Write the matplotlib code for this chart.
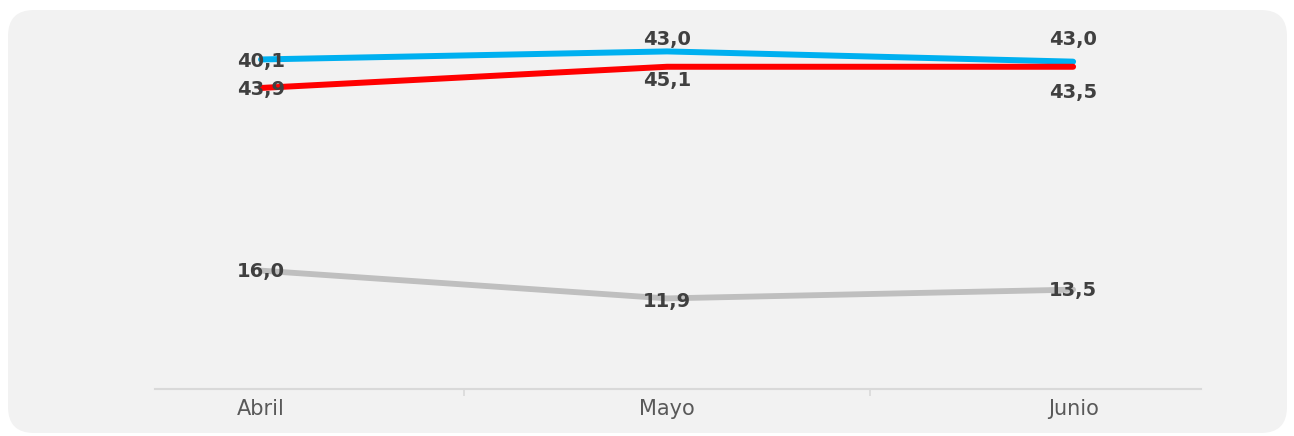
import matplotlib
matplotlib.use('Agg')
import matplotlib.pyplot as plt
from matplotlib.patches import FancyBboxPatch
from matplotlib.transforms import IdentityTransform

# data (plotted level and the printed label differ in the source)
months = ['Abril', 'Mayo', 'Junio']
blue_vals = [45.1, 46.2, 44.8]
red_vals = [41.2, 44.1, 44.1]
gray_vals = [16.2, 12.4, 13.6]
blue_labels = ['40,1', '43,0', '43,0']
red_labels = ['43,9', '45,1', '43,5']
gray_labels = ['16,0', '11,9', '13,5']

W, H = 1294, 436
fig = plt.figure(figsize=(W / 100, H / 100), dpi=100)
fig.patch.set_facecolor('white')

# rounded grey panel behind the chart
panel = FancyBboxPatch((8, 3), 1279, 423, boxstyle='round,pad=0,rounding_size=26',
                       transform=IdentityTransform(), facecolor='#f2f2f2',
                       edgecolor='none', zorder=-5)
fig.patches.append(panel)

ax = fig.add_axes([155 / W, (H - 389) / H, 1046 / W, 369 / H])
ax.set_facecolor('none')
ax.set_zorder(2)

x = list(range(len(months)))
ax.plot(x, gray_vals, color='#bfbfbf', lw=4.2, solid_capstyle='round', zorder=2)
ax.plot(x, blue_vals, color='#00b0f0', lw=4.3, solid_capstyle='round', zorder=3)
ax.plot(x, red_vals, color='#ff0000', lw=4.3, solid_capstyle='round', zorder=4)

# label offsets in pixels (up is positive)
blue_dy = [0, 14, 24]
red_dy = [0, -12, -24]
gray_dy = [1, -1, 1]

for vals, labels, dys in [(blue_vals, blue_labels, blue_dy),
                          (red_vals, red_labels, red_dy),
                          (gray_vals, gray_labels, gray_dy)]:
    for xi, v, lab, dy in zip(x, vals, labels, dys):
        ax.annotate(lab, (xi, v), xytext=(0, dy), textcoords='offset pixels',
                    ha='center', va='center_baseline', fontsize=14, fontweight='bold',
                    color='#404040', zorder=6)

ax.set_xlim(-0.261, 2.315)
ax.set_ylim(0, 50.5)

for s in ['top', 'left', 'right']:
    ax.spines[s].set_visible(False)
ax.spines['bottom'].set_color('#d9d9d9')
ax.spines['bottom'].set_linewidth(1.5)

ax.set_yticks([])
ax.set_xticks(x)
ax.set_xticklabels(months, fontsize=15, color='#595959')
ax.tick_params(axis='x', which='major', length=0, pad=7)
ax.set_xticks([0.5, 1.5], minor=True)
ax.tick_params(axis='x', which='minor', length=5, width=1.2, color='#d9d9d9')

fig.savefig('out.png', dpi=100, facecolor='white')
